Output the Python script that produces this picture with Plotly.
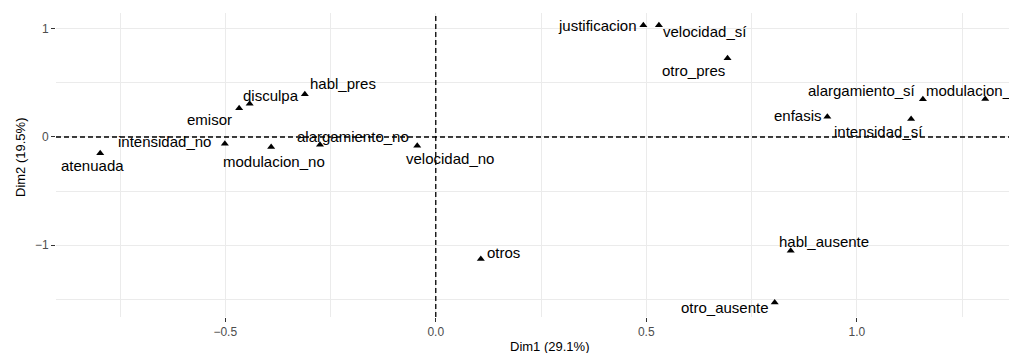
import plotly.graph_objects as go

# ---- data ----
labels = ["atenuada", "emisor", "disculpa", "habl_pres", "intensidad_no", "modulacion_no",
          "alargamiento_no", "velocidad_no", "justificacion", "velocidad_sí", "otro_pres",
          "alargamiento_sí", "modulacion_sí", "enfasis", "intensidad_sí", "otros",
          "habl_ausente", "otro_ausente"]
dim1 = [-0.797, -0.467, -0.442, -0.311, -0.501, -0.391, -0.275, -0.044, 0.493, 0.530,
        0.693, 1.157, 1.305, 0.930, 1.129, 0.107, 0.843, 0.805]
dim2 = [-0.151, 0.265, 0.308, 0.395, -0.062, -0.092, -0.071, -0.080, 1.032, 1.032,
        0.727, 0.348, 0.351, 0.188, 0.166, -1.128, -1.051, -1.531]

x_title = "Dim1 (29.1%)"
y_title = "Dim2 (19.5%)"

# label offsets in pixels (layout, repel-like placement): (dx right, dy down)
label_offsets = [(-7.6, 11.7), (-30, 10.7), (21, -8), (38, -10.3), (-60.5, -2.5), (3, 14.5),
                 (33, -8), (33, 13), (-45.6, 0), (45.7, 6), (-34.4, 11.7),
                 (-61, -8.6), (-10, -9), (-29.3, -1), (-33, 12), (22.3, -6.3),
                 (33.3, -8.7), (-49.7, 4.6)]

FONT = "Liberation Sans, Arial, Helvetica, sans-serif"

fig = go.Figure()
fig.add_trace(go.Scatter(
    x=dim1, y=dim2, mode="markers",
    marker=dict(symbol="triangle-up", size=7, color="black", line=dict(width=0)),
    hoverinfo="text", text=labels, showlegend=False, cliponaxis=False,
))

annotations = []
for lab, xv, yv, (dx, dy) in zip(labels, dim1, dim2, label_offsets):
    annotations.append(dict(
        x=xv, y=yv, xref="x", yref="y", text=lab, showarrow=False,
        xanchor="center", yanchor="middle", xshift=dx, yshift=-dy,
        font=dict(family=FONT, size=15, color="black"),
    ))

# plot area: 961 px wide (page x 56..1017), 304 px tall (page y 13..317)
annotations.append(dict(x=(549 - 56) / 961, y=(317 - 346) / 304, xref="paper", yref="paper",
                        text=x_title, showarrow=False, xanchor="center", yanchor="middle",
                        font=dict(family=FONT, size=13, color="black")))
annotations.append(dict(x=(20 - 56) / 961, y=(317 - 158) / 304, xref="paper", yref="paper",
                        text=y_title, showarrow=False, xanchor="center", yanchor="middle",
                        textangle=-90, font=dict(family=FONT, size=13, color="black")))

grid_major = "#EBEBEB"
fig.update_layout(
    width=1009, height=345,
    margin=dict(l=48, r=0, t=5, b=36),
    paper_bgcolor="white", plot_bgcolor="white",
    font=dict(family=FONT),
    annotations=annotations,
    shapes=[
        dict(type="line", xref="x", yref="paper", x0=0, x1=0, y0=0, y1=1,
             line=dict(color="black", width=1.3, dash="5px,3px"), layer="above"),
        dict(type="line", xref="paper", yref="y", x0=0, x1=1, y0=0, y1=0,
             line=dict(color="black", width=1.3, dash="5px,3px"), layer="above"),
    ],
    xaxis=dict(
        range=[-0.902, 1.3805], tickvals=[-0.5, 0.0, 0.5, 1.0], tickformat=".1f",
        showgrid=True, gridcolor=grid_major, gridwidth=1,
        minor=dict(tickvals=[-0.75, -0.25, 0.25, 0.75, 1.25], showgrid=True,
                   gridcolor=grid_major, gridwidth=0.6, ticks=""),
        zeroline=False, showline=False,
        ticks="outside", ticklen=4, tickwidth=1, tickcolor="#333333",
        tickfont=dict(family=FONT, size=12, color="#4D4D4D"),
    ),
    yaxis=dict(
        range=[-1.664, 1.146], tickvals=[-1, 0, 1], tickformat="d",
        showgrid=True, gridcolor=grid_major, gridwidth=1,
        minor=dict(tickvals=[-1.5, -0.5, 0.5], showgrid=True,
                   gridcolor=grid_major, gridwidth=0.6, ticks=""),
        zeroline=False, showline=False,
        ticks="outside", ticklen=4, tickwidth=1, tickcolor="#333333",
        tickfont=dict(family=FONT, size=12, color="#4D4D4D"),
    ),
)

fig.write_html("out.html")
